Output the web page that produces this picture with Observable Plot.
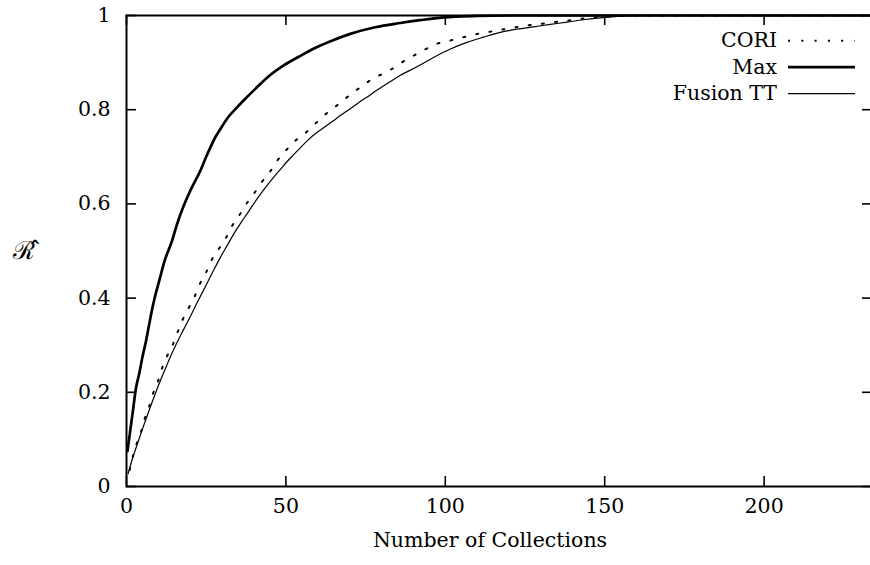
<!DOCTYPE html>
<html><head><meta charset="utf-8">
<script src="https://cdn.jsdelivr.net/npm/d3@7"></script>
<script src="https://cdn.jsdelivr.net/npm/@observablehq/plot@0.6"></script>
<style>html,body{margin:0;padding:0;background:#fff;overflow:hidden}
svg text{font-family:"DejaVu Serif",serif !important;}</style>
</head><body><div id="chart"></div>
<script>
const xTicks = [0, 50, 100, 150, 200];
const yTicks = [0, 0.2, 0.4, 0.6, 0.8, 1];
const yTickLabels = ["0", "0.2", "0.4", "0.6", "0.8", "1"];
const xTitle = "Number of Collections";
const yTitle = "\u211B\u0302";
const seriesNames = ["CORI", "Max", "Fusion TT"];

const coriX = [1,2,3.1,4.6,5.7,7,8.3,9.8,11.1,12.6,14.5,16.1,17.6,19.5,21.4,23,25,26.7,28.9,31.1,33.1,35.5,37.6,40.1,42.4,44.9,47.3,49.8,53.1,56.2,59,62.2,65.6,68.9,72.2,75.5,79.1,82.9,86,90.1,93.4,97.4,101.6,105.7,109.4,113.6,117.8,121.9,125.6,129.8,134,138.2,142.3,146.5,155,165,233];
const coriY = [0.035,0.064,0.089,0.117,0.144,0.168,0.197,0.222,0.25,0.275,0.301,0.329,0.354,0.379,0.404,0.43,0.455,0.481,0.504,0.527,0.553,0.577,0.6,0.623,0.646,0.667,0.692,0.712,0.735,0.751,0.769,0.789,0.807,0.825,0.842,0.858,0.872,0.885,0.899,0.915,0.927,0.94,0.947,0.954,0.96,0.965,0.97,0.975,0.979,0.982,0.986,0.989,0.993,0.996,0.999,1,1];

const maxX = [0.3,1,2,3,4,5,6,7,8,9,10,12,14.3,16,18,20,23.2,25,27.9,30,32,34,36.8,41,45,49.3,55,59.8,65,70.2,78,85.9,92,99.5,110,120,233];
const maxY = [0.075,0.11,0.16,0.21,0.24,0.275,0.305,0.34,0.375,0.405,0.43,0.48,0.522,0.56,0.597,0.628,0.671,0.7,0.742,0.765,0.785,0.8,0.82,0.848,0.873,0.894,0.916,0.933,0.948,0.961,0.975,0.984,0.99,0.996,0.999,1,1];

const fusionX = [0.5,2,3.4,4.7,6.2,7.7,9.2,10.7,12.3,14,16,17.8,19.5,22.5,25,27.4,29.5,31.6,34,36.8,39,41,43.5,46.2,48.5,50.4,52.5,54.5,57,59.8,62.5,65,67.5,70.2,72.8,75.5,78,80.7,83.3,85.9,91.1,96.3,101.6,106.8,112,117.2,122.5,127.7,132.9,138.2,143.4,148.6,154,160,233];
const fusionY = [0.027,0.062,0.09,0.116,0.145,0.173,0.2,0.226,0.252,0.279,0.308,0.332,0.354,0.395,0.428,0.46,0.487,0.512,0.54,0.569,0.591,0.611,0.634,0.657,0.675,0.69,0.705,0.719,0.736,0.752,0.765,0.777,0.79,0.802,0.815,0.827,0.839,0.851,0.862,0.873,0.891,0.911,0.929,0.943,0.954,0.964,0.971,0.976,0.981,0.986,0.991,0.995,0.998,1,1];

const toRows = (xs, ys) => xs.map((x, i) => ({x, y: ys[i]}));
const cori = toRows(coriX, coriY);
const maxS = toRows(maxX, maxY);
const fusion = toRows(fusionX, fusionY);

const FONT = "DejaVu Serif, serif";
const FS = 20.5;
const styles = {
  "CORI": {strokeWidth: 2, strokeDasharray: "2,11.3"},
  "Max": {strokeWidth: 2.7},
  "Fusion TT": {strokeWidth: 1.2}
};

function legendMark(index, scales, values, dimensions) {
  const g = d3.create("svg:g");
  const right = dimensions.width - dimensions.marginRight;
  const top = dimensions.marginTop;
  seriesNames.forEach((name, i) => {
    const yy = top + 25.7 + i * 26.5;
    g.append("text")
      .attr("x", right - 95).attr("y", yy).attr("dy", "0.32em")
      .attr("text-anchor", "end")
      .attr("font-size", FS)
      .attr("fill", "black").text(name);
    const s = styles[name];
    g.append("line")
      .attr("x1", right - 84).attr("x2", right - 17)
      .attr("y1", yy).attr("y2", yy)
      .attr("stroke", "black").attr("stroke-width", s.strokeWidth)
      .attr("stroke-dasharray", s.strokeDasharray || null);
  });
  return g.node();
}

const frameH = 486 - 15;
const frameW = 872 - 126;
const tickLen = 10;

const chart = Plot.plot({
  width: 870,
  height: 565,
  marginLeft: 126,
  marginRight: -2,
  marginTop: 15,
  marginBottom: 565 - 486,
  style: {fontFamily: FONT, fontSize: FS + "px", background: "white", color: "black"},
  x: {domain: [0, 234], axis: null},
  y: {domain: [0, 1], axis: null},
  marks: [
    Plot.line(fusion, {x: "x", y: "y", stroke: "black", strokeWidth: styles["Fusion TT"].strokeWidth, curve: "monotone-x"}),
    Plot.line(cori, {x: "x", y: "y", stroke: "black", strokeWidth: styles["CORI"].strokeWidth, strokeDasharray: styles["CORI"].strokeDasharray, curve: "monotone-x"}),
    Plot.line(maxS, {x: "x", y: "y", stroke: "black", strokeWidth: styles["Max"].strokeWidth, curve: "monotone-x"}),
    Plot.ruleX(xTicks, {x: d => d, insetTop: frameH - tickLen, stroke: "black", strokeWidth: 1.6}),
    Plot.ruleX(xTicks, {x: d => d, insetBottom: frameH - tickLen, stroke: "black", strokeWidth: 1.6}),
    Plot.ruleY(yTicks, {y: d => d, insetRight: frameW - tickLen, stroke: "black", strokeWidth: 1.6}),
    Plot.ruleY(yTicks, {y: d => d, insetLeft: frameW - tickLen, stroke: "black", strokeWidth: 1.6}),
    Plot.frame({stroke: "black", strokeWidth: 2}),
    Plot.text(xTicks, {x: d => d, text: d => String(d), frameAnchor: "bottom", dy: 26, fontSize: FS, fill: "black"}),
    Plot.text(yTicks, {y: d => d, text: (d, i) => yTickLabels[i], frameAnchor: "left", dx: -16, textAnchor: "end", fontSize: FS, fill: "black"}),
    Plot.text([xTitle], {text: d => d, frameAnchor: "bottom", dy: 60, dx: -9.5, fontSize: FS, fill: "black"}),
    Plot.text([yTitle], {text: d => d, frameAnchor: "left", dx: -103, dy: 0, textAnchor: "middle", fontSize: 25, fill: "black"}),
    legendMark
  ]
});
document.getElementById("chart").appendChild(chart);
</script>
</body></html>
